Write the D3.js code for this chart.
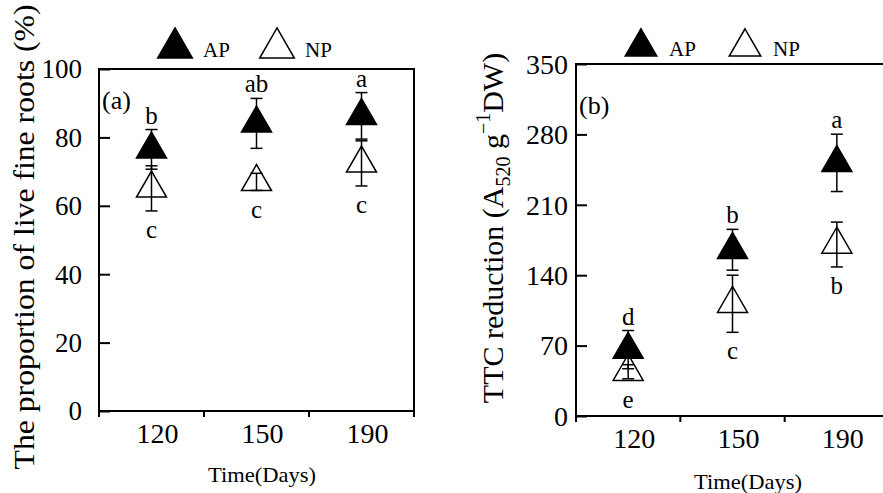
<!DOCTYPE html>
<html>
<head>
<meta charset="utf-8">
<title>Live fine roots and TTC reduction</title>
<script src="https://d3js.org/d3.v7.min.js"></script>
<style>
  body { margin: 0; background: #fff; }
  svg { display: block; font-family: "Liberation Serif", "Times New Roman", serif; }
  text { fill: #000; }
</style>
</head>
<body>
<div id="chart"></div>
<script>
// data
const days = ["120", "150", "190"];

const liveAP = [76.5, 84.1, 86.3];
const liveAPErr = [5.8, 7.3, 6.8];
const liveNP = [65.1, 67.0, 72.4];
const liveNPErr = [6.6, 2.5, 6.6];
const liveAPLetters = ["b", "ab", "a"];
const liveNPLetters = ["c", "c", "c"];
const liveTicks = [0, 20, 40, 60, 80, 100];

const ttcAP = [66, 165.3, 251.7];
const ttcAPErr = [19, 20.3, 28.5];
const ttcNP = [44, 111.6, 170.5];
const ttcNPErr = [7, 28.4, 22.3];
const ttcAPLetters = ["d", "b", "a"];
const ttcNPLetters = ["e", "c", "b"];
const ttcTicks = [0, 70, 140, 210, 280, 350];

const seriesNames = ["AP", "NP"];

const svg = d3.select("#chart").append("svg")
  .attr("width", 883).attr("height", 493);

const tri = d3.symbol().type(d3.symbolTriangle).size(390);

function panel(opt) {
  const g = svg.append("g");
  const x = d3.scaleBand().domain(days).range([opt.left, opt.right]);
  const y = d3.scaleLinear().domain([0, opt.ticks[opt.ticks.length - 1]]).range([opt.bottom, opt.top]);

  // frame
  g.append("rect")
    .attr("x", opt.left).attr("y", opt.top)
    .attr("width", opt.right - opt.left).attr("height", opt.bottom - opt.top)
    .attr("fill", "none").attr("stroke", "#000").attr("stroke-width", 2);

  // y axis (ticks inward)
  const yAxis = g.append("g").attr("transform", "translate(" + opt.left + ",0)")
    .call(d3.axisRight(y).tickValues(opt.ticks).tickSize(11).tickFormat(""));
  yAxis.select(".domain").remove();
  yAxis.selectAll("line").attr("stroke-width", 2);
  g.selectAll(".ylab").data(opt.ticks).enter().append("text")
    .attr("x", opt.left - opt.yLabGap).attr("y", d => y(d))
    .attr("dy", "0.35em").attr("text-anchor", "end")
    .style("font-size", opt.yTickSize + "px").text(d => d);

  // x axis: ticks at band edges, outward
  const edges = days.map(d => x(d)).concat([opt.right]);
  g.selectAll(".xtick").data(edges).enter().append("line")
    .attr("x1", d => d).attr("x2", d => d)
    .attr("y1", opt.bottom).attr("y2", opt.bottom + 6)
    .attr("stroke", "#000").attr("stroke-width", 2);
  g.selectAll(".xlab").data(days).enter().append("text")
    .attr("x", d => x(d) + x.bandwidth() / 2 + 6).attr("y", opt.bottom + 32)
    .attr("text-anchor", "middle").style("font-size", "28px").text(d => d);

  // axis titles
  g.append("text")
    .attr("x", opt.xTitleX).attr("y", opt.xTitleY)
    .attr("text-anchor", "middle").style("font-size", "21px")
    .attr("textLength", 108).attr("lengthAdjust", "spacingAndGlyphs")
    .text("Time(Days)");
  opt.yTitle(g);

  // panel tag
  g.append("text").attr("x", opt.left + 3).attr("y", opt.tagY)
    .style("font-size", "26px").text(opt.tag);

  // legend
  const ltri = d3.symbol().type(d3.symbolTriangle).size(opt.legendSize);
  [0, 1].forEach(i => {
    const lx = opt.legendX + i * opt.legendStep;
    ltri;
    g.append("path").attr("d", ltri())
      .attr("transform", "translate(" + lx + "," + opt.legendY + ")")
      .attr("fill", i === 0 ? "#000" : "#fff").attr("stroke", "#000").attr("stroke-width", 1.5);
    g.append("text").attr("x", lx + 28).attr("y", opt.legendY + 9)
      .style("font-size", "21px").text(seriesNames[i]);
  });

  // series
  const series = [
    { v: opt.ap, e: opt.apErr, l: opt.apLet, fill: "#000", up: true },
    { v: opt.np, e: opt.npErr, l: opt.npLet, fill: "none", up: false }
  ];
  series.forEach(s => {
    days.forEach((d, i) => {
      const cx = x(d) + x.bandwidth() / 2;
      const cy = y(s.v[i]);
      g.append("path").attr("d", tri())
        .attr("transform", "translate(" + cx + "," + cy + ")")
        .attr("fill", s.fill).attr("stroke", "#000").attr("stroke-width", 1.5);
      const y1 = y(s.v[i] + s.e[i]), y2 = y(s.v[i] - s.e[i]);
      g.append("line").attr("x1", cx).attr("x2", cx).attr("y1", y1).attr("y2", y2)
        .attr("stroke", "#000").attr("stroke-width", 1.5);
      [y1, y2].forEach(yy => g.append("line")
        .attr("x1", cx - 6).attr("x2", cx + 6).attr("y1", yy).attr("y2", yy)
        .attr("stroke", "#000").attr("stroke-width", 1.5));
      const ly = s.up ? y1 - 14 : Math.max(y2, cy + 9) + 19;
      g.append("text").attr("x", cx).attr("y", ly).attr("dy", "0.32em")
        .attr("text-anchor", "middle").style("font-size", "25px").text(s.l[i]);
    });
  });
}

panel({
  left: 99, right: 414, top: 69, bottom: 411,
  ticks: liveTicks, yLabGap: 17, yTickSize: 27,
  ap: liveAP, apErr: liveAPErr, np: liveNP, npErr: liveNPErr,
  apLet: liveAPLetters, npLet: liveNPLetters,
  tag: "(a)", tagY: 109,
  legendX: 175, legendY: 48, legendSize: 520, legendStep: 102,
  xTitleX: 262, xTitleY: 482,
  yTitle: g => g.append("text")
    .attr("transform", "translate(34,237) rotate(-90)")
    .attr("text-anchor", "middle").style("font-size", "29px")
    .attr("textLength", 465).attr("lengthAdjust", "spacingAndGlyphs")
    .text("The proportion of live fine roots (%)")
});

panel({
  left: 576, right: 889, top: 64, bottom: 416,
  ticks: ttcTicks, yLabGap: 8, yTickSize: 28,
  ap: ttcAP, apErr: ttcAPErr, np: ttcNP, npErr: ttcNPErr,
  apLet: ttcAPLetters, npLet: ttcNPLetters,
  tag: "(b)", tagY: 114,
  legendX: 641, legendY: 47, legendSize: 430, legendStep: 104,
  xTitleX: 748, xTitleY: 489,
  yTitle: g => {
    const t = g.append("text")
      .attr("transform", "translate(503,228) rotate(-90)")
      .attr("text-anchor", "middle").style("font-size", "30px");
    t.append("tspan").text("TTC reduction (A");
    t.append("tspan").attr("dy", 7).style("font-size", "20px").text("520");
    t.append("tspan").attr("dy", -7).text(" g");
    t.append("tspan").attr("dy", -13).style("font-size", "20px").text("\u22121");
    t.append("tspan").attr("dy", 13).text("DW)");
  }
});
</script>
</body>
</html>
